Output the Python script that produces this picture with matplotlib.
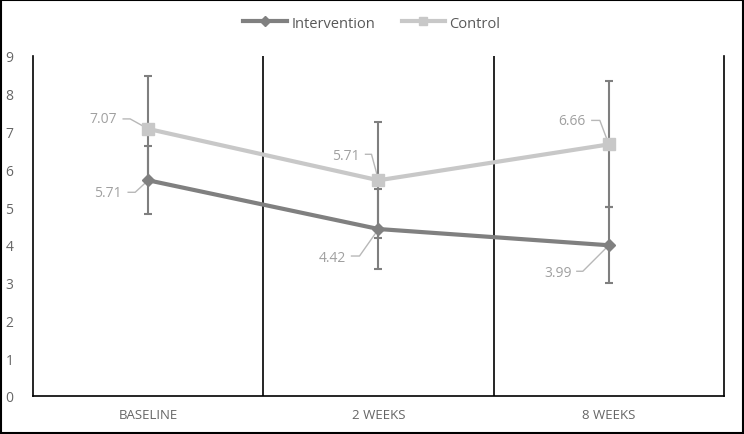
import matplotlib.pyplot as plt
import matplotlib.transforms as mtransforms
from matplotlib.patches import Rectangle
import numpy as np

plt.rcParams["font.family"] = ["Open Sans", "DejaVu Sans"]

timepoints = ["BASELINE", "2 WEEKS", "8 WEEKS"]
intervention = [5.71, 4.42, 3.99]
intervention_err = [0.90, 1.06, 1.00]
control = [7.07, 5.71, 6.66]
control_err = [1.40, 1.54, 1.67]

C_INT = "#808080"
C_CTL = "#c8c8c8"
C_ERR = "#7f7f7f"
C_TXT = "#a0a0a0"
C_TICK = "#595959"

# leader / label offsets in pixels relative to each point: (text_dx, text_dy, leader pts)
int_labels = [(-26, -12, [(-20, -12), (-13, -12), (0, 0)]),
              (-32, -28, [(-27, -27), (-19, -27), (0, 0)]),
              (-37, -27, [(-32, -26), (-26, -26), (0, 0)])]
ctl_labels = [(-31, 10, [(-25, 10), (-18, 10), (0, 0)]),
              (-19, 25, [(-13, 26), (-7, 26), (0, 0)]),
              (-23, 24, [(-17, 24), (-9, 24), (0, 0)])]

fig = plt.figure(figsize=(7.44, 4.35), dpi=100)
ax = fig.add_axes([33 / 744, 1 - 397 / 435, (724 - 33) / 744, (397 - 57) / 435])

x = np.arange(len(timepoints))

ax.errorbar(x, control, yerr=control_err, fmt="none", ecolor=C_ERR, elinewidth=1.5,
            capsize=3, capthick=1.5, zorder=2)
ax.errorbar(x, intervention, yerr=intervention_err, fmt="none", ecolor=C_ERR, elinewidth=1.5,
            capsize=3, capthick=1.5, zorder=2)
ax.plot(x, intervention, color=C_INT, lw=3, marker="D", ms=6.5, label="Intervention", zorder=3)
ax.plot(x, control, color=C_CTL, lw=3, marker="s", ms=8, label="Control", zorder=3)


def label(xv, yv, txt, spec):
    tdx, tdy, pts = spec
    base = mtransforms.IdentityTransform() + mtransforms.ScaledTranslation(xv, yv, ax.transData)
    px, py = zip(*pts)
    ax.plot(px, py, color="#b8b8b8", lw=1, transform=base, zorder=1, clip_on=False)
    ax.text(tdx, tdy, txt, transform=base, ha="right", va="center", fontsize=10,
            color=C_TXT)


for i in range(len(timepoints)):
    label(x[i], intervention[i], f"{intervention[i]:.2f}", int_labels[i])
    label(x[i], control[i], f"{control[i]:.2f}", ctl_labels[i])

ax.set_xlim(-0.5, 2.5)
ax.set_ylim(0, 9)
ax.set_yticks(range(0, 10))
ax.set_xticks(x)
ax.set_xticklabels(timepoints, fontsize=9.5, color="#666666")
ax.tick_params(axis="y", length=0, labelsize=10, labelcolor="#666666", pad=14)
ax.tick_params(axis="x", length=0, pad=9)
for xv in [0.5, 1.5]:
    ax.axvline(xv, color="black", lw=1.2, zorder=0)
ax.spines["top"].set_visible(False)
for s in ["left", "right", "bottom"]:
    ax.spines[s].set_color("black")
    ax.spines[s].set_linewidth(1.2)

fig.legend(loc="center", bbox_to_anchor=(0.5, 1 - 24 / 435), ncol=2, frameon=False,
           fontsize=10.5, handlelength=3.0, columnspacing=1.8, handletextpad=0.3,
           labelcolor="#595959", markerscale=0.8)

fig.patches.append(Rectangle((1 / 744, 1 / 435), 742 / 744, 433 / 435, transform=fig.transFigure,
                             fill=False, ec="black", lw=1.5))

fig.savefig("out.png", dpi=100)
